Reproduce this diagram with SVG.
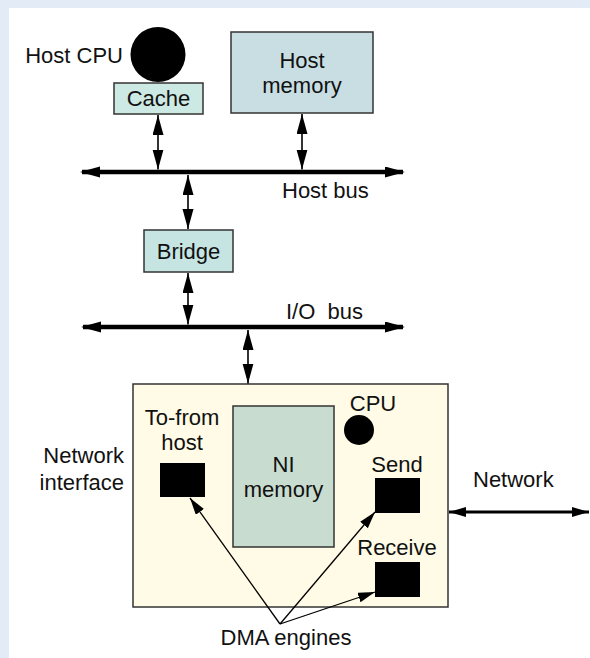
<svg xmlns="http://www.w3.org/2000/svg" width="590" height="658" viewBox="0 0 590 658">
<defs>
<style>
text{font-family:"Liberation Sans",Arial,sans-serif;font-size:22px;fill:#111}
.box{stroke:#333;stroke-width:1.5}
.thin{stroke:#000;stroke-width:1.6;fill:none}
.bus{stroke:#000;stroke-width:4.5;fill:none}
</style>
<marker id="ah" markerUnits="userSpaceOnUse" markerWidth="22" markerHeight="12" refX="20" refY="5.5" orient="auto-start-reverse" viewBox="0 0 22 12"><path d="M0,0 L20,5.5 L0,11 z" fill="#000"/></marker>
<marker id="ahb" markerUnits="userSpaceOnUse" markerWidth="22" markerHeight="12" refX="18" refY="5.5" orient="auto-start-reverse" viewBox="0 0 22 12"><path d="M0,0 L20,5.5 L0,11 z" fill="#000"/></marker>
<marker id="ahs" markerUnits="userSpaceOnUse" markerWidth="20" markerHeight="12" refX="17" refY="5" orient="auto-start-reverse" viewBox="0 0 20 12"><path d="M0,0 L17,5 L0,10 z" fill="#000"/></marker>
</defs>
<rect x="0" y="0" width="590" height="658" fill="#e3ebf7"/>
<rect x="9" y="8" width="581" height="650" fill="#fff"/>

<g id="host-cpu">
<circle cx="158" cy="54.5" r="27.5" fill="#000"/>
<text x="123" y="63" text-anchor="end">Host CPU</text>
</g>
<g id="cache">
<rect class="box" x="114" y="83" width="89" height="31" fill="#cde9e3"/>
<text x="158.5" y="106" text-anchor="middle">Cache</text>
</g>
<g id="host-memory">
<rect class="box" x="231" y="32" width="142" height="81" fill="#c8dee3"/>
<text x="302" y="68" text-anchor="middle">Host</text>
<text x="302" y="93" text-anchor="middle">memory</text>
</g>
<g id="host-bus">
<text x="282" y="198">Host bus</text>
</g>
<g id="bridge">
<rect class="box" x="144" y="230" width="89" height="42" fill="#c6e5e2"/>
<text x="188.5" y="259" text-anchor="middle">Bridge</text>
</g>
<g id="io-bus">
<text x="286" y="319" xml:space="preserve">I/O  bus</text>
</g>
<g id="network-interface">
<rect class="box" x="133" y="384" width="315" height="223" fill="#fffbe6"/>
<text x="124" y="463" text-anchor="end">Network</text>
<text x="124" y="490" text-anchor="end">interface</text>
</g>
<g id="ni-memory">
<rect class="box" x="233" y="406" width="101" height="141" fill="#c8dccf"/>
<text x="283.5" y="472" text-anchor="middle">NI</text>
<text x="283.5" y="497" text-anchor="middle">memory</text>
</g>
<g id="to-from-host">
<text x="182" y="425" text-anchor="middle">To-from</text>
<text x="182" y="450" text-anchor="middle">host</text>
<rect x="160" y="463" width="45" height="34" fill="#000"/>
</g>
<g id="ni-cpu">
<text x="373" y="411" text-anchor="middle">CPU</text>
<circle cx="359" cy="430" r="15" fill="#000"/>
</g>
<g id="send">
<text x="397" y="472" text-anchor="middle">Send</text>
<rect x="375" y="478" width="45" height="35" fill="#000"/>
</g>
<g id="receive">
<text x="397" y="555" text-anchor="middle">Receive</text>
<rect x="375" y="562" width="45" height="35" fill="#000"/>
</g>
<g id="network">
<text x="473" y="487">Network</text>
</g>
<g id="dma-engines">
<text x="286" y="645" text-anchor="middle">DMA engines</text>
</g>

<g id="connectors">
<line class="bus" x1="82" y1="172" x2="403" y2="172" marker-start="url(#ahb)" marker-end="url(#ahb)"/>
<line class="bus" x1="83" y1="327" x2="403" y2="327" marker-start="url(#ahb)" marker-end="url(#ahb)"/>
<line class="thin" x1="158" y1="115" x2="158" y2="169.5" marker-start="url(#ah)" marker-end="url(#ah)"/>
<line class="thin" x1="302" y1="114" x2="302" y2="169.5" marker-start="url(#ah)" marker-end="url(#ah)"/>
<line class="thin" x1="188" y1="175" x2="188" y2="229" marker-start="url(#ah)" marker-end="url(#ah)"/>
<line class="thin" x1="188" y1="273" x2="188" y2="324.5" marker-start="url(#ah)" marker-end="url(#ah)"/>
<line class="thin" x1="248" y1="330" x2="248" y2="383.5" marker-start="url(#ah)" marker-end="url(#ah)"/>
<line class="bus" style="stroke-width:3" x1="449" y1="512" x2="589" y2="512" marker-start="url(#ahs)" marker-end="url(#ahs)"/>
<line class="thin" style="stroke-width:1.3" x1="280" y1="624" x2="190" y2="498" marker-end="url(#ahs)"/>
<line class="thin" style="stroke-width:1.3" x1="280" y1="624" x2="375" y2="512" marker-end="url(#ahs)"/>
<line class="thin" style="stroke-width:1.3" x1="280" y1="624" x2="375" y2="592" marker-end="url(#ahs)"/>
</g>
</svg>
